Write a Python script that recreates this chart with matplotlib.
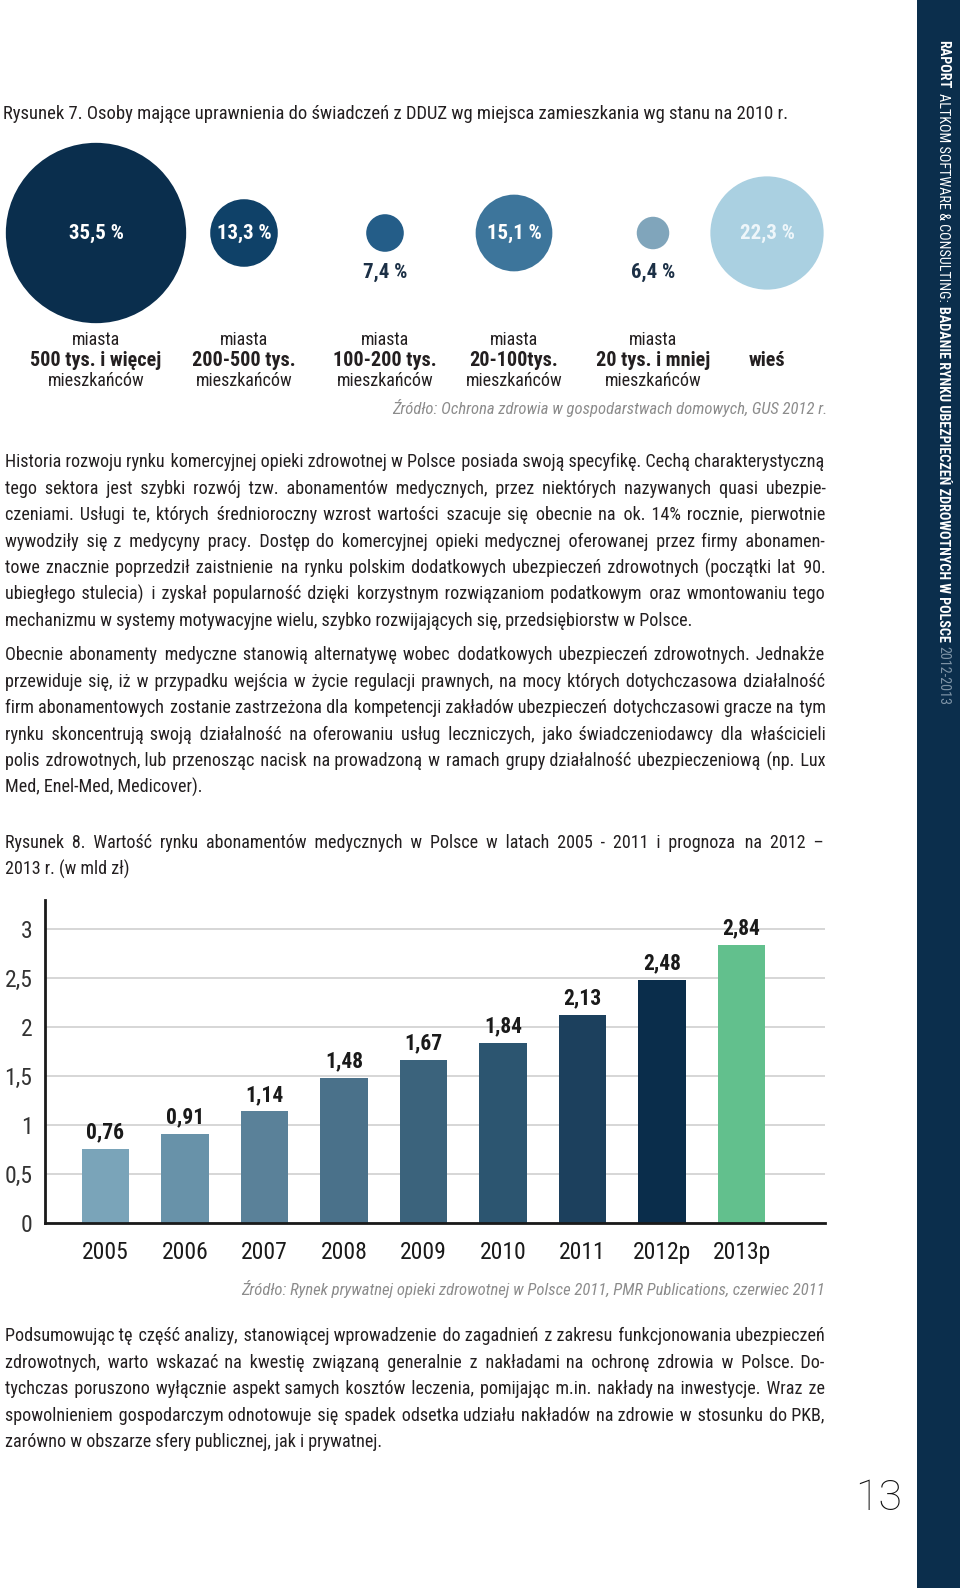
import matplotlib
matplotlib.use("Agg")
import matplotlib.pyplot as plt
from matplotlib.patches import Circle, Rectangle
from matplotlib import font_manager
from matplotlib.font_manager import FontProperties

W, H = 960, 1588
TEXT = "#231f20"
NAVY = "#0b2e4c"
GREY = "#8c8c8c"
HAIR = "\u200a"

# waski krój podobny do Helvetica Condensed z oryginału
fonts = {f.name for f in font_manager.fontManager.ttflist}
BASE = next((n for n in ["Roboto Condensed", "Liberation Sans Narrow", "Fira Sans Condensed",
                         "Barlow Semi Condensed"] if n in fonts), "Liberation Sans")
FAMILY = [BASE, "DejaVu Sans"]
plt.rcParams["font.family"] = FAMILY
plt.rcParams["text.color"] = TEXT

# Rysunek 7 - dane
bubble_pct = [35.5, 13.3, 7.4, 15.1, 6.4, 22.3]
bubble_txt = ["35,5 %", "13,3 %", "7,4 %", "15,1 %", "6,4 %", "22,3 %"]
place_top = ["miasta"] * 5 + [""]
place_mid = ["500 tys. i więcej", "200-500 tys.", "100-200 tys.", "20-100tys.", "20 tys. i mniej", "wieś"]
place_bot = ["mieszkańców"] * 5 + [""]

# Rysunek 8 - dane
years = ["2005", "2006", "2007", "2008", "2009", "2010", "2011", "2012p", "2013p"]
market = [0.76, 0.91, 1.14, 1.48, 1.67, 1.84, 2.13, 2.48, 2.84]
y_ticks = [0, 0.5, 1, 1.5, 2, 2.5, 3]
y_labels = ["0", "0,5", "1", "1,5", "2", "2,5", "3"]

# kolory
bubble_colors = ["#0a2e4d", "#0f4168", "#245d88", "#3d759b", "#80a5bb", "#aad0e1"]
bubble_text_colors = ["white", "white", "#1c3046", "white", "#1c3046", "#eef6fa"]
bar_colors = ["#7aa4b9", "#6892a9", "#5a8199", "#4a718a", "#3b637c",
              "#2c5570", "#1c405d", "#0a2d4b", "#62c08d"]

title7 = "Rysunek 7. Osoby mające uprawnienia do świadczeń z DDUZ wg miejsca zamieszkania wg stanu na 2010 r."
source7 = "Źródło: Ochrona zdrowia w gospodarstwach domowych, GUS 2012 r."
para1 = [
    "Historia rozwoju rynku komercyjnej opieki zdrowotnej w Polsce posiada swoją specyfikę. Cechą charakterystyczną",
    "tego sektora jest szybki rozwój tzw. abonamentów medycznych, przez niektórych nazywanych quasi ubezpie-",
    "czeniami. Usługi te, których średnioroczny wzrost wartości szacuje się obecnie na ok. 14% rocznie, pierwotnie",
    "wywodziły się z medycyny pracy. Dostęp do komercyjnej opieki medycznej oferowanej przez firmy abonamen-",
    "towe znacznie poprzedził zaistnienie na rynku polskim dodatkowych ubezpieczeń zdrowotnych (początki lat 90.",
    "ubiegłego stulecia) i zyskał popularność dzięki korzystnym rozwiązaniom podatkowym oraz wmontowaniu tego",
    "mechanizmu w systemy motywacyjne wielu, szybko rozwijających się, przedsiębiorstw w Polsce.",
]
para2 = [
    "Obecnie abonamenty medyczne stanowią alternatywę wobec dodatkowych ubezpieczeń zdrowotnych. Jednakże",
    "przewiduje się, iż w przypadku wejścia w życie regulacji prawnych, na mocy których dotychczasowa działalność",
    "firm abonamentowych zostanie zastrzeżona dla kompetencji zakładów ubezpieczeń dotychczasowi gracze na tym",
    "rynku skoncentrują swoją działalność na oferowaniu usług leczniczych, jako świadczeniodawcy dla właścicieli",
    "polis zdrowotnych, lub przenosząc nacisk na prowadzoną w ramach grupy działalność ubezpieczeniową (np. Lux",
    "Med, Enel-Med, Medicover).",
]
title8 = [
    "Rysunek 8. Wartość rynku abonamentów medycznych w Polsce w latach 2005 - 2011 i prognoza na 2012 –",
    "2013 r. (w mld zł)",
]
source8 = "Źródło: Rynek prywatnej opieki zdrowotnej w Polsce 2011, PMR Publications, czerwiec 2011"
para3 = [
    "Podsumowując tę część analizy, stanowiącej wprowadzenie do zagadnień z zakresu funkcjonowania ubezpieczeń",
    "zdrowotnych, warto wskazać na kwestię związaną generalnie z nakładami na ochronę zdrowia w Polsce. Do-",
    "tychczas poruszono wyłącznie aspekt samych kosztów leczenia, pomijając m.in. nakłady na inwestycje. Wraz ze",
    "spowolnieniem gospodarczym odnotowuje się spadek odsetka udziału nakładów na zdrowie w stosunku do PKB,",
    "zarówno w obszarze sfery publicznej, jak i prywatnej.",
]
side_parts = [
    ("RAPORT", "bold", "white"),
    ("ALTKOM SOFTWARE & CONSULTING:", "normal", "white"),
    ("BADANIE RYNKU UBEZPIECZEŃ ZDROWOTNYCH W POLSCE", "bold", "white"),
    ("2012-2013", "normal", "#7d93a6"),
]

fig = plt.figure(figsize=(W / 100, H / 100), dpi=100)
R = fig.canvas.get_renderer()


def put(x, y, s, **kw):
    # pozycja w pikselach strony, y liczone od gory
    kw.setdefault("va", "center")
    return fig.text(x / W, 1 - y / H, s, **kw)


def tw(s, prop):
    return R.get_text_width_height_descent(s, prop, ismath=False)[0]


def justify(lines, y0, size=13.1, x0=5, x1=825, step=26.5, last=False):
    # wyjustowany akapit: kazda linia to jeden tekst, odstepy dopelnione spacjami wlosowymi
    prop = FontProperties(family=FAMILY, size=size)
    w_sp = tw("a a", prop) - tw("aa", prop)
    w_h = (tw("a" + HAIR * 20 + "a", prop) - tw("aa", prop)) / 20
    for i, line in enumerate(lines):
        y = y0 + i * step + 0.49 * size
        words = line.split()
        if (i == len(lines) - 1 and not last) or len(words) < 2:
            put(x0, y, line, fontsize=size, va="baseline")
            continue
        widths = [tw(w, prop) for w in words]
        gap = (x1 - x0 - sum(widths)) / (len(words) - 1)
        s = words[0]
        for j in range(1, len(words)):
            target = sum(widths[:j]) + j * gap
            need = target - tw(s, prop)
            b = max(0, round((need - w_sp) / w_h)) if w_h > 0.1 else 0
            s += " " + HAIR * b + words[j]
        put(x0, y, s, fontsize=size, va="baseline")


# pasek boczny
fig.add_artist(Rectangle((917 / W, 0), 43 / W, 1, transform=fig.transFigure,
                         facecolor=NAVY, edgecolor="none"))


def side_text(size):
    y = 40
    arts = []
    for s, wt, c in side_parts:
        t = put(943, y, s, fontsize=size, fontweight=wt, color=c, rotation=-90,
                rotation_mode="anchor", ha="left", va="center")
        y += t.get_window_extent(R).height + size * 0.3 * 100 / 72
        arts.append(t)
    return y - 40, arts


length, tmp = side_text(10)
for t in tmp:
    t.remove()
side_text(10 * 664 / length)

# Rysunek 7
put(3, 114, title7, fontsize=13.4)

bx = fig.add_axes([0, 1 - 400 / H, 917 / W, 280 / H])
bx.set_xlim(0, 917)
bx.set_ylim(400, 120)
bx.axis("off")
bubble_x = [96, 244, 385, 514, 653, 767]
cy, k = 233, 2.54
for x, v, lab, col, tc, a, b, c in zip(bubble_x, bubble_pct, bubble_txt, bubble_colors,
                                       bubble_text_colors, place_top, place_mid, place_bot):
    bx.add_patch(Circle((x, cy), v * k, facecolor=col, edgecolor="none"))
    ty = cy if v > 10 else 272
    bx.text(x, ty, lab, ha="center", va="center", fontsize=15, fontweight="bold", color=tc)
    bx.text(x, 340, a, ha="center", va="center", fontsize=13)
    bx.text(x, 361, b, ha="center", va="center", fontsize=14.5, fontweight="bold")
    bx.text(x, 381, c, ha="center", va="center", fontsize=13)

put(827, 408, source7, fontsize=12, style="italic", color=GREY, ha="right")

justify(para1, 461)
justify(para2, 654)

# Rysunek 8
justify(title8, 842, size=13, x1=823)

ax = fig.add_axes([45 / W, 1 - 1223 / H, 780 / W, 323 / H])
bars = ax.bar(range(len(years)), market, width=0.6, color=bar_colors, zorder=3)
ax.bar_label(bars, labels=[f"{v:.2f}".replace(".", ",") for v in market],
             fontsize=15.5, fontweight="bold", padding=4, color="#1a1a1a")
ax.set_xlim(-0.76, 9.05)
ax.set_ylim(0, 3.3)
ax.set_yticks(y_ticks)
ax.set_yticklabels(y_labels, fontsize=17, color="#333333")
ax.set_xticks(range(len(years)))
ax.set_xticklabels(years, fontsize=17, color="#1a1a1a")
ax.tick_params(axis="y", length=0, pad=9)
ax.tick_params(axis="x", length=0, pad=13)
ax.yaxis.grid(True, color="#cfcfcf", linewidth=1.2)
ax.set_axisbelow(True)
for s in ["top", "right"]:
    ax.spines[s].set_visible(False)
for s in ["left", "bottom"]:
    ax.spines[s].set_linewidth(2)
    ax.spines[s].set_color("#1a1a1a")
    ax.spines[s].set_zorder(4)

put(825, 1289, source8, fontsize=12, style="italic", color=GREY, ha="right")

justify(para3, 1335)

put(879, 1499, "13", fontsize=31, ha="center", color="#111111",
    family=["Roboto", "DejaVu Sans"], fontweight="light")

fig.savefig("out.png", dpi=100)
